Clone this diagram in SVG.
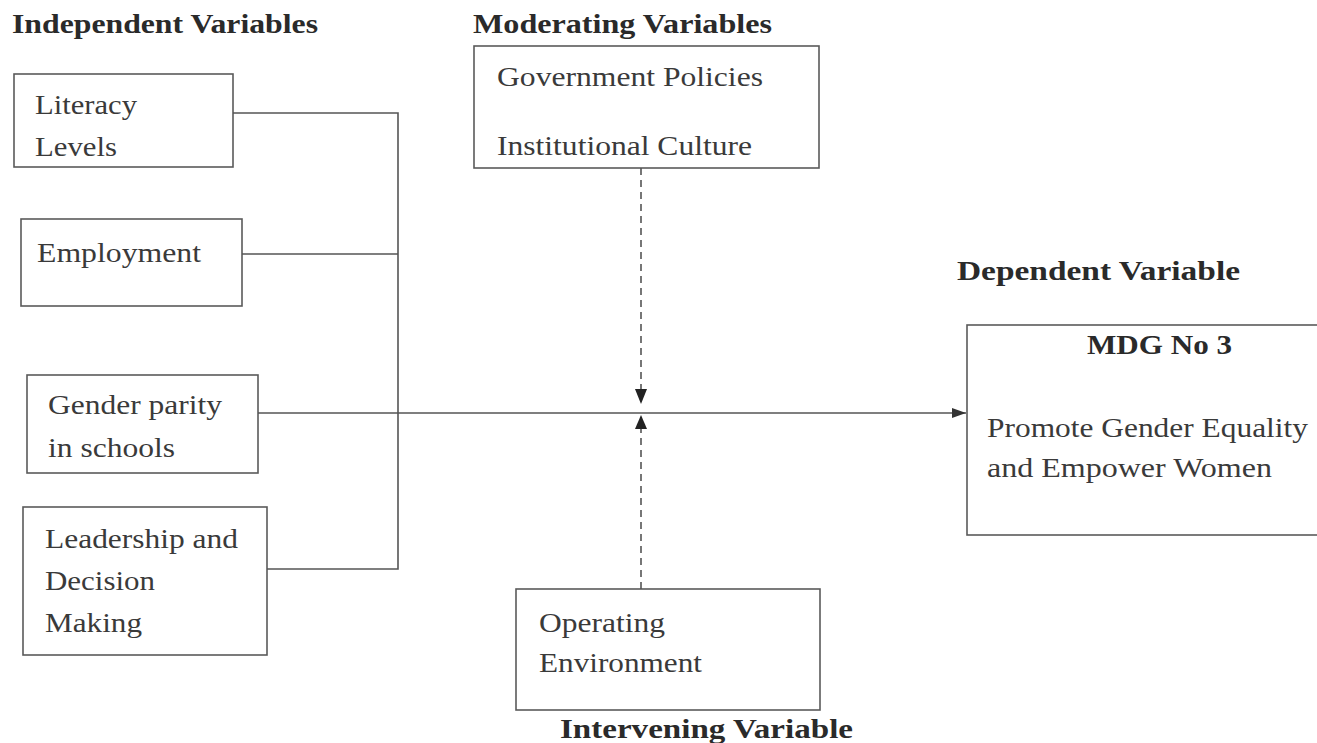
<svg xmlns="http://www.w3.org/2000/svg" width="1317" height="743" viewBox="0 0 1317 743">
<style>
.box{fill:none;stroke:#5a5a5a;stroke-width:1.6}
.t{font-family:"Liberation Serif","Times New Roman",serif;font-size:27px;fill:#3a3a3a}
.h{font-family:"Liberation Serif","Times New Roman",serif;font-size:27px;font-weight:bold;fill:#2a2a2a}
.ln{fill:none;stroke:#555;stroke-width:1.6}
.dash{fill:none;stroke:#555;stroke-width:1.6;stroke-dasharray:7 5}
</style>
<defs>
<marker id="ah" viewBox="0 0 14 10" refX="14" refY="5" markerWidth="14" markerHeight="10" markerUnits="userSpaceOnUse" orient="auto">
<path d="M0,0 L14,5 L0,10 Z" fill="#333"/>
</marker>
</defs>
<rect width="1317" height="743" fill="#fff"/>
<g id="titles">
<text class="h" x="12" y="33" textLength="306" lengthAdjust="spacingAndGlyphs">Independent Variables</text>
<text class="h" x="473" y="33" textLength="299" lengthAdjust="spacingAndGlyphs">Moderating Variables</text>
<text class="h" x="957" y="280" textLength="283" lengthAdjust="spacingAndGlyphs">Dependent Variable</text>
<text class="h" x="560" y="738" textLength="293" lengthAdjust="spacingAndGlyphs">Intervening Variable</text>
</g>
<g id="literacy">
<rect class="box" x="14" y="74" width="219" height="93"/>
<text class="t" x="35" y="114" textLength="102" lengthAdjust="spacingAndGlyphs">Literacy</text>
<text class="t" x="35" y="156" textLength="82" lengthAdjust="spacingAndGlyphs">Levels</text>
</g>
<g id="employment">
<rect class="box" x="21" y="219" width="221" height="87"/>
<text class="t" x="37" y="262" textLength="164" lengthAdjust="spacingAndGlyphs">Employment</text>
</g>
<g id="gender">
<rect class="box" x="27" y="375" width="231" height="98"/>
<text class="t" x="48" y="414" textLength="174" lengthAdjust="spacingAndGlyphs">Gender parity</text>
<text class="t" x="48" y="457" textLength="127" lengthAdjust="spacingAndGlyphs">in schools</text>
</g>
<g id="leadership">
<rect class="box" x="23" y="507" width="244" height="148"/>
<text class="t" x="45" y="548" textLength="193" lengthAdjust="spacingAndGlyphs">Leadership and</text>
<text class="t" x="45" y="590" textLength="110" lengthAdjust="spacingAndGlyphs">Decision</text>
<text class="t" x="45" y="632" textLength="97" lengthAdjust="spacingAndGlyphs">Making</text>
</g>
<g id="moderating">
<rect class="box" x="474" y="46" width="345" height="122"/>
<text class="t" x="497" y="86" textLength="266" lengthAdjust="spacingAndGlyphs">Government Policies</text>
<text class="t" x="497" y="155" textLength="255" lengthAdjust="spacingAndGlyphs">Institutional Culture</text>
</g>
<g id="intervening">
<rect class="box" x="516" y="589" width="304" height="121"/>
<text class="t" x="539" y="632" textLength="126" lengthAdjust="spacingAndGlyphs">Operating</text>
<text class="t" x="539" y="672" textLength="163" lengthAdjust="spacingAndGlyphs">Environment</text>
</g>
<g id="dependent">
<rect class="box" x="967" y="325" width="360" height="210"/>
<text class="h" x="1087" y="354" textLength="145" lengthAdjust="spacingAndGlyphs">MDG No 3</text>
<text class="t" x="987" y="437" textLength="321" lengthAdjust="spacingAndGlyphs">Promote Gender Equality</text>
<text class="t" x="987" y="477" textLength="285" lengthAdjust="spacingAndGlyphs">and Empower Women</text>
</g>
<g id="connectors">
<path class="ln" d="M233,113 H398 V569 H267"/>
<path class="ln" d="M242,254 H398"/>
<path class="ln" d="M258,413 H966" marker-end="url(#ah)"/>
<path class="dash" d="M641,168 V390"/>
<path d="M635,389 L647,389 L641,404 Z" fill="#222"/>
<path class="dash" d="M641,589 V428"/>
<path d="M635,429 L647,429 L641,415 Z" fill="#222"/>
</g>
</svg>
